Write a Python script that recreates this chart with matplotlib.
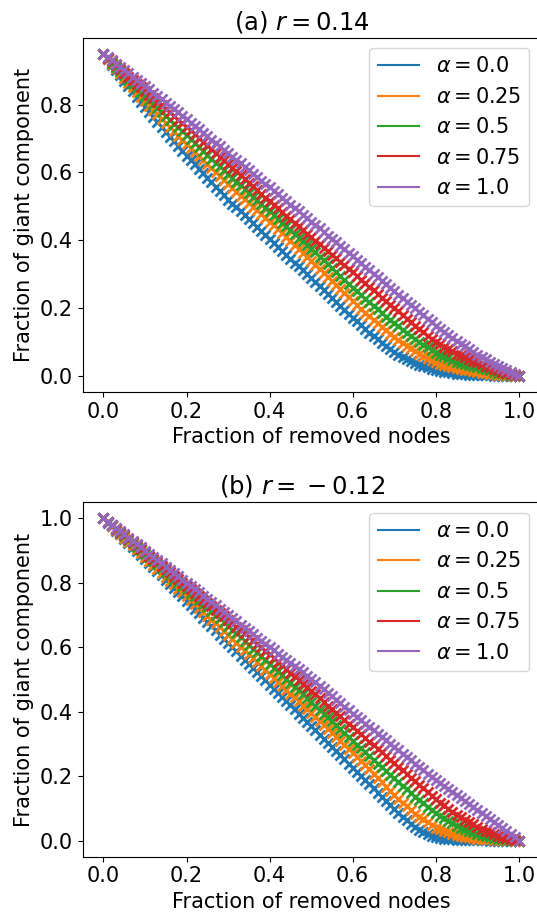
import numpy as np
import matplotlib.pyplot as plt

# fraction of removed nodes (0.00, 0.01, ..., 1.00)
removed = np.linspace(0, 1, 101)
alpha_labels = ["0.0", "0.25", "0.5", "0.75", "1.0"]
colors = ["tab:blue", "tab:orange", "tab:green", "tab:red", "tab:purple"]

# (a) r = 0.14
a_alpha00 = [0.950, 0.934, 0.918, 0.902, 0.886, 0.870, 0.855, 0.839, 0.824, 0.808,
             0.793, 0.778, 0.764, 0.749, 0.735, 0.720, 0.706, 0.692, 0.678, 0.664,
             0.650, 0.637, 0.624, 0.610, 0.597, 0.584, 0.571, 0.558, 0.546, 0.533,
             0.520, 0.508, 0.497, 0.485, 0.474, 0.462, 0.450, 0.439, 0.427, 0.416,
             0.404, 0.392, 0.381, 0.369, 0.358, 0.346, 0.334, 0.323, 0.311, 0.300,
             0.288, 0.276, 0.265, 0.253, 0.242, 0.230, 0.218, 0.207, 0.195, 0.184,
             0.172, 0.161, 0.150, 0.139, 0.128, 0.117, 0.108, 0.098, 0.089, 0.079,
             0.070, 0.063, 0.057, 0.050, 0.044, 0.037, 0.033, 0.029, 0.025, 0.021,
             0.017, 0.015, 0.013, 0.011, 0.009, 0.007, 0.006, 0.005, 0.004, 0.004,
             0.003, 0.003, 0.002, 0.002, 0.001, 0.001, 0.001, 0.001, 0.000, 0.000,
             0.000]
a_alpha025 = [0.950, 0.936, 0.921, 0.907, 0.892, 0.878, 0.864, 0.851, 0.837, 0.824,
              0.810, 0.797, 0.784, 0.772, 0.759, 0.746, 0.734, 0.722, 0.709, 0.697,
              0.685, 0.673, 0.661, 0.649, 0.637, 0.625, 0.613, 0.601, 0.589, 0.577,
              0.565, 0.554, 0.543, 0.532, 0.521, 0.510, 0.499, 0.488, 0.477, 0.466,
              0.455, 0.444, 0.432, 0.421, 0.409, 0.398, 0.386, 0.375, 0.363, 0.352,
              0.340, 0.328, 0.316, 0.304, 0.292, 0.280, 0.268, 0.256, 0.244, 0.232,
              0.220, 0.209, 0.198, 0.187, 0.176, 0.165, 0.155, 0.145, 0.135, 0.125,
              0.115, 0.106, 0.098, 0.089, 0.081, 0.072, 0.066, 0.059, 0.053, 0.046,
              0.040, 0.036, 0.033, 0.029, 0.026, 0.022, 0.020, 0.018, 0.016, 0.014,
              0.012, 0.010, 0.009, 0.007, 0.006, 0.004, 0.003, 0.002, 0.002, 0.001,
              0.000]
a_alpha05 = [0.950, 0.937, 0.924, 0.912, 0.899, 0.886, 0.874, 0.862, 0.849, 0.837,
             0.825, 0.813, 0.802, 0.790, 0.779, 0.767, 0.756, 0.744, 0.733, 0.721,
             0.710, 0.698, 0.687, 0.675, 0.664, 0.652, 0.641, 0.629, 0.618, 0.606,
             0.595, 0.584, 0.573, 0.562, 0.551, 0.540, 0.529, 0.518, 0.507, 0.496,
             0.485, 0.474, 0.463, 0.452, 0.441, 0.430, 0.419, 0.408, 0.397, 0.386,
             0.375, 0.364, 0.352, 0.341, 0.329, 0.318, 0.306, 0.295, 0.283, 0.272,
             0.260, 0.249, 0.238, 0.228, 0.217, 0.206, 0.196, 0.186, 0.175, 0.165,
             0.155, 0.146, 0.136, 0.127, 0.117, 0.108, 0.100, 0.092, 0.084, 0.076,
             0.068, 0.063, 0.058, 0.052, 0.047, 0.042, 0.039, 0.035, 0.032, 0.028,
             0.025, 0.022, 0.019, 0.016, 0.013, 0.010, 0.008, 0.006, 0.004, 0.002,
             0.000]
a_alpha075 = [0.950, 0.939, 0.928, 0.916, 0.905, 0.894, 0.883, 0.872, 0.862, 0.851,
              0.840, 0.829, 0.819, 0.808, 0.798, 0.787, 0.777, 0.766, 0.756, 0.745,
              0.735, 0.724, 0.713, 0.702, 0.691, 0.680, 0.669, 0.658, 0.647, 0.636,
              0.625, 0.614, 0.603, 0.592, 0.581, 0.570, 0.559, 0.548, 0.537, 0.526,
              0.515, 0.504, 0.494, 0.483, 0.473, 0.462, 0.452, 0.441, 0.431, 0.420,
              0.410, 0.399, 0.389, 0.378, 0.368, 0.357, 0.347, 0.336, 0.326, 0.315,
              0.305, 0.294, 0.284, 0.273, 0.263, 0.252, 0.242, 0.231, 0.221, 0.210,
              0.200, 0.190, 0.179, 0.169, 0.158, 0.148, 0.138, 0.129, 0.119, 0.110,
              0.100, 0.093, 0.086, 0.080, 0.073, 0.066, 0.061, 0.055, 0.050, 0.045,
              0.040, 0.035, 0.030, 0.026, 0.021, 0.016, 0.013, 0.010, 0.006, 0.003,
              0.000]
a_alpha10 = [0.950, 0.940, 0.931, 0.921, 0.912, 0.902, 0.893, 0.883, 0.874, 0.864,
             0.855, 0.845, 0.835, 0.826, 0.816, 0.806, 0.796, 0.786, 0.777, 0.767,
             0.757, 0.747, 0.737, 0.727, 0.717, 0.707, 0.697, 0.687, 0.677, 0.667,
             0.657, 0.647, 0.637, 0.627, 0.617, 0.606, 0.596, 0.586, 0.576, 0.566,
             0.556, 0.546, 0.536, 0.526, 0.516, 0.505, 0.495, 0.485, 0.475, 0.465,
             0.455, 0.445, 0.435, 0.424, 0.414, 0.404, 0.394, 0.384, 0.373, 0.363,
             0.353, 0.343, 0.332, 0.322, 0.312, 0.302, 0.291, 0.281, 0.271, 0.260,
             0.250, 0.240, 0.230, 0.219, 0.209, 0.199, 0.189, 0.179, 0.168, 0.158,
             0.148, 0.139, 0.130, 0.121, 0.112, 0.103, 0.095, 0.087, 0.079, 0.071,
             0.063, 0.056, 0.049, 0.042, 0.035, 0.028, 0.022, 0.017, 0.011, 0.006,
             0.000]

# (b) r = -0.12
b_alpha00 = [1.000, 0.987, 0.975, 0.962, 0.950, 0.937, 0.925, 0.912, 0.900, 0.887,
             0.875, 0.862, 0.849, 0.836, 0.823, 0.810, 0.797, 0.784, 0.771, 0.758,
             0.745, 0.732, 0.719, 0.705, 0.692, 0.679, 0.666, 0.653, 0.639, 0.626,
             0.613, 0.600, 0.587, 0.574, 0.561, 0.548, 0.535, 0.522, 0.510, 0.497,
             0.484, 0.471, 0.458, 0.446, 0.433, 0.420, 0.407, 0.394, 0.381, 0.368,
             0.355, 0.342, 0.329, 0.316, 0.303, 0.290, 0.277, 0.264, 0.252, 0.239,
             0.226, 0.213, 0.200, 0.188, 0.175, 0.162, 0.149, 0.136, 0.124, 0.111,
             0.098, 0.086, 0.074, 0.063, 0.052, 0.042, 0.033, 0.025, 0.019, 0.014,
             0.010, 0.008, 0.006, 0.005, 0.004, 0.003, 0.003, 0.002, 0.002, 0.001,
             0.001, 0.001, 0.001, 0.000, 0.000, 0.000, 0.000, 0.000, 0.000, 0.000,
             0.000]
b_alpha025 = [1.000, 0.988, 0.976, 0.964, 0.952, 0.940, 0.928, 0.916, 0.904, 0.892,
              0.880, 0.868, 0.856, 0.843, 0.831, 0.819, 0.807, 0.795, 0.782, 0.770,
              0.758, 0.746, 0.734, 0.722, 0.710, 0.698, 0.686, 0.674, 0.662, 0.650,
              0.638, 0.626, 0.614, 0.602, 0.590, 0.578, 0.566, 0.554, 0.541, 0.529,
              0.517, 0.505, 0.493, 0.480, 0.468, 0.456, 0.444, 0.432, 0.419, 0.407,
              0.395, 0.383, 0.370, 0.358, 0.345, 0.333, 0.321, 0.309, 0.296, 0.284,
              0.272, 0.259, 0.246, 0.234, 0.221, 0.208, 0.194, 0.181, 0.167, 0.154,
              0.140, 0.129, 0.117, 0.106, 0.094, 0.083, 0.074, 0.066, 0.057, 0.049,
              0.040, 0.035, 0.030, 0.026, 0.021, 0.016, 0.014, 0.012, 0.010, 0.008,
              0.006, 0.005, 0.004, 0.004, 0.003, 0.002, 0.002, 0.001, 0.001, 0.000,
              0.000]
b_alpha05 = [1.000, 0.989, 0.978, 0.967, 0.956, 0.945, 0.934, 0.923, 0.912, 0.901,
             0.890, 0.879, 0.868, 0.857, 0.846, 0.835, 0.824, 0.813, 0.802, 0.791,
             0.780, 0.769, 0.758, 0.746, 0.735, 0.724, 0.713, 0.701, 0.690, 0.678,
             0.667, 0.655, 0.643, 0.632, 0.620, 0.608, 0.596, 0.584, 0.573, 0.561,
             0.549, 0.537, 0.525, 0.514, 0.502, 0.490, 0.478, 0.466, 0.454, 0.442,
             0.430, 0.418, 0.406, 0.394, 0.382, 0.370, 0.358, 0.346, 0.334, 0.322,
             0.310, 0.298, 0.286, 0.275, 0.263, 0.251, 0.239, 0.228, 0.216, 0.205,
             0.193, 0.182, 0.170, 0.159, 0.147, 0.136, 0.126, 0.116, 0.105, 0.095,
             0.085, 0.077, 0.069, 0.061, 0.053, 0.045, 0.040, 0.035, 0.030, 0.025,
             0.020, 0.017, 0.014, 0.012, 0.009, 0.006, 0.005, 0.004, 0.002, 0.001,
             0.000]
b_alpha075 = [1.000, 0.989, 0.979, 0.968, 0.958, 0.947, 0.937, 0.926, 0.916, 0.905,
              0.895, 0.884, 0.874, 0.863, 0.853, 0.842, 0.832, 0.821, 0.811, 0.800,
              0.790, 0.780, 0.769, 0.759, 0.748, 0.738, 0.728, 0.717, 0.707, 0.696,
              0.686, 0.675, 0.664, 0.654, 0.643, 0.632, 0.621, 0.610, 0.600, 0.589,
              0.578, 0.567, 0.555, 0.544, 0.532, 0.521, 0.510, 0.499, 0.487, 0.476,
              0.465, 0.454, 0.442, 0.431, 0.419, 0.408, 0.397, 0.386, 0.374, 0.363,
              0.352, 0.341, 0.330, 0.318, 0.307, 0.296, 0.285, 0.274, 0.262, 0.251,
              0.240, 0.229, 0.218, 0.206, 0.195, 0.184, 0.173, 0.162, 0.150, 0.139,
              0.128, 0.118, 0.109, 0.099, 0.090, 0.080, 0.072, 0.065, 0.057, 0.050,
              0.042, 0.037, 0.031, 0.026, 0.020, 0.015, 0.012, 0.009, 0.006, 0.003,
              0.000]
b_alpha10 = [1.000, 0.990, 0.980, 0.970, 0.960, 0.950, 0.940, 0.930, 0.920, 0.910,
             0.900, 0.890, 0.880, 0.870, 0.860, 0.850, 0.840, 0.830, 0.820, 0.810,
             0.800, 0.790, 0.780, 0.770, 0.760, 0.750, 0.740, 0.730, 0.720, 0.710,
             0.700, 0.690, 0.680, 0.670, 0.660, 0.650, 0.640, 0.630, 0.620, 0.610,
             0.600, 0.590, 0.580, 0.571, 0.561, 0.551, 0.541, 0.531, 0.522, 0.512,
             0.502, 0.491, 0.480, 0.470, 0.459, 0.448, 0.437, 0.426, 0.416, 0.405,
             0.394, 0.384, 0.373, 0.363, 0.352, 0.342, 0.332, 0.321, 0.311, 0.300,
             0.290, 0.280, 0.270, 0.259, 0.249, 0.239, 0.229, 0.219, 0.208, 0.198,
             0.188, 0.178, 0.169, 0.159, 0.150, 0.140, 0.131, 0.122, 0.113, 0.104,
             0.095, 0.086, 0.076, 0.067, 0.057, 0.048, 0.038, 0.029, 0.019, 0.010,
             0.000]

panel_a = [a_alpha00, a_alpha025, a_alpha05, a_alpha075, a_alpha10]
panel_b = [b_alpha00, b_alpha025, b_alpha05, b_alpha075, b_alpha10]

plt.rcParams["font.size"] = 15

fig = plt.figure(figsize=(5.37, 9.17), dpi=100)
ax_a = fig.add_axes([0.154, 0.5725, 0.851, 0.3864])
ax_b = fig.add_axes([0.154, 0.0658, 0.851, 0.3865])

for ax, curves, title in [(ax_a, panel_a, r"(a) $r = 0.14$"),
                          (ax_b, panel_b, r"(b) $r =\:-\:0.12$")]:
    for vals, lab, c in zip(curves, alpha_labels, colors):
        ax.plot(removed, vals, "x", color=c, markersize=7, markeredgewidth=2)
        ax.plot(removed, vals, "-", color=c, linewidth=1.5,
                label=r"$\alpha = %s$" % lab)
    ax.set_title(title, fontsize=17.5, x=0.48)
    ax.set_xlabel("Fraction of removed nodes")
    ax.set_ylabel("Fraction of giant component")
    ax.legend(loc="upper right")

fig.savefig("out.png", dpi=100)
